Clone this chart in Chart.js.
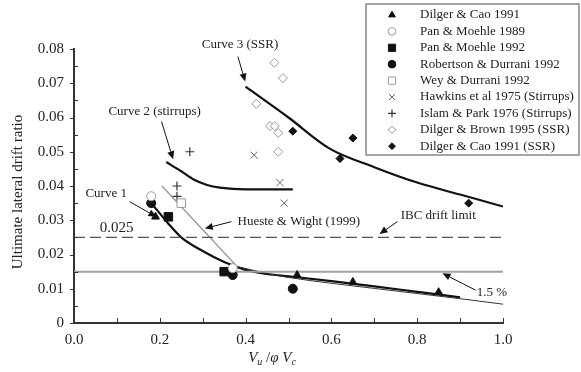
<!DOCTYPE html>
<html>
<head>
<meta charset="utf-8">
<script src="https://cdn.jsdelivr.net/npm/chart.js@4.4.1/dist/chart.umd.min.js"></script>
<style>
html,body{margin:0;padding:0;background:#fff;}
#wrap{width:581px;height:372px;position:relative;}
</style>
</head>
<body>
<div id="wrap"><canvas id="c" width="581" height="372"></canvas></div>
<script>
// ---- data ----
const xTicks = [0.0, 0.2, 0.4, 0.6, 0.8, 1.0];
const yTicks = [0, 0.01, 0.02, 0.03, 0.04, 0.05, 0.06, 0.07, 0.08];

const dilgerCao1991 = [{x:0.19,y:0.031},{x:0.52,y:0.014},{x:0.65,y:0.012},{x:0.85,y:0.009}];
const panMoehle1989 = [{x:0.18,y:0.037},{x:0.37,y:0.016}];
const panMoehle1992 = [{x:0.22,y:0.031},{x:0.35,y:0.015}];
const robertsonDurrani1992 = [{x:0.18,y:0.035},{x:0.37,y:0.014},{x:0.51,y:0.010}];
const weyDurrani1992 = [{x:0.25,y:0.035}];
const hawkins1975 = [{x:0.42,y:0.049},{x:0.48,y:0.041},{x:0.49,y:0.035}];
const islamPark1976 = [{x:0.27,y:0.050},{x:0.24,y:0.040},{x:0.24,y:0.037}];
const dilgerBrown1995 = [{x:0.467,y:0.076},{x:0.487,y:0.0715},{x:0.425,y:0.064},{x:0.457,y:0.0575},{x:0.468,y:0.0575},{x:0.476,y:0.0555},{x:0.476,y:0.050}];
const dilgerCao1991SSR = [{x:0.51,y:0.056},{x:0.65,y:0.054},{x:0.62,y:0.048},{x:0.92,y:0.035}];

const curve1 = [{x:0.18,y:0.035},{x:0.20,y:0.032},{x:0.22,y:0.029},{x:0.25,y:0.025},{x:0.30,y:0.021},{x:0.35,y:0.0178},{x:0.40,y:0.0155},{x:0.45,y:0.0143},{x:0.51,y:0.0135},{x:0.60,y:0.0122},{x:0.70,y:0.0107},{x:0.80,y:0.0091},{x:0.90,y:0.0075}];
const curve2 = [{x:0.215,y:0.047},{x:0.25,y:0.0443},{x:0.28,y:0.0418},{x:0.31,y:0.0403},{x:0.34,y:0.0395},{x:0.40,y:0.039},{x:0.51,y:0.039}];
const curve3 = [{x:0.40,y:0.069},{x:0.50,y:0.060},{x:0.595,y:0.051},{x:0.70,y:0.0455},{x:0.80,y:0.041},{x:0.90,y:0.0375},{x:1.0,y:0.034}];
const huesteWightStraight = [{x:0.205,y:0.040},{x:0.38,y:0.0165}];
const huesteWightTail = [{x:0.38,y:0.0165},{x:0.45,y:0.0145},{x:0.50,y:0.0133},{x:0.60,y:0.0116},{x:0.70,y:0.0101},{x:0.80,y:0.0086},{x:0.90,y:0.0071},{x:1.0,y:0.0055}];
const ibcLimit = [{x:0,y:0.025},{x:1.0,y:0.025}];
const onePointFive = [{x:0,y:0.015},{x:1.0,y:0.015}];

const legendLabels = ["Dilger & Cao 1991","Pan & Moehle 1989","Pan & Moehle 1992","Robertson & Durrani 1992","Wey & Durrani 1992","Hawkins et al 1975 (Stirrups)","Islam & Park 1976 (Stirrups)","Dilger & Brown 1995 (SSR)","Dilger & Cao 1991 (SSR)"];

// annotations: text position and arrow in data coordinates
const annoTexts = ["Curve 1","Curve 2 (stirrups)","Curve 3 (SSR)","Hueste & Wight (1999)","IBC drift limit","0.025","1.5 %"];
const annoTextPos = [[0.075,0.0377],[0.188,0.0617],[0.387,0.0812],[0.524,0.0296],[0.849,0.0313],[0.060,0.0278],[0.974,0.0088]];
const annoArrowFrom = [[0.130,0.0354],[0.204,0.0588],[0.382,0.0778],[0.367,0.0296],[0.754,0.0296],null,[0.936,0.0096]];
const annoArrowTo = [[0.192,0.031],[0.231,0.0478],[0.399,0.0705],[0.305,0.0276],[0.712,0.0260],null,[0.859,0.0145]];

const SERIF = "'Liberation Serif','Times New Roman',serif";

function pts(data, style, radius, fill, stroke, bw, label){
  return {type:'scatter', label:label, data:data, pointStyle:style, pointRadius:radius, pointHoverRadius:radius,
    backgroundColor:fill, borderColor:stroke, borderWidth:bw, order:0};
}
function line(data, color, width, dash, tension, label){
  return {type:'line', label:label, data:data, showLine:true, borderColor:color, borderWidth:width,
    borderDash:dash||[], pointRadius:0, pointHoverRadius:0, tension:tension, cubicInterpolationMode:tension?'monotone':'default', fill:false, order:1};
}

const pointSets = [
  pts(dilgerCao1991,'triangle',4.5,'#111','#111',1,legendLabels[0]),
  pts(panMoehle1989,'circle',4.5,'#fff','#999',1,legendLabels[1]),
  pts(panMoehle1992,'rect',6,'#111','#111',1,legendLabels[2]),
  pts(robertsonDurrani1992,'circle',4.5,'#111','#111',1,legendLabels[3]),
  pts(weyDurrani1992,'rect',6,'#fff','#999',1,legendLabels[4]),
  pts(hawkins1975,'crossRot',5,'#666','#666',1,legendLabels[5]),
  pts(islamPark1976,'cross',4.5,'#333','#333',1.2,legendLabels[6]),
  pts(dilgerBrown1995,'rectRot',4.5,'#fff','#999',1,legendLabels[7]),
  pts(dilgerCao1991SSR,'rectRot',4,'#111','#111',1,legendLabels[8])
];

const datasets = [
  line(onePointFive,'#a0a0a0',2,null,0,'1.5%'),
  line(ibcLimit,'#555',1.3,[11,5],0,'IBC'),
  line(huesteWightStraight,'#9a9a9a',1.4,null,0,'HW'),
  line(huesteWightTail,'#333',1,null,0.4,'HW2'),
  line(curve1,'#111',2.2,null,0.4,'C1'),
  line(curve2,'#111',2.2,null,0.4,'C2'),
  line(curve3,'#111',2.2,null,0.3,'C3'),
].concat(pointSets);

function drawArrow(ctx, x1, y1, x2, y2){
  ctx.save();
  ctx.strokeStyle = '#111'; ctx.fillStyle = '#111'; ctx.lineWidth = 1;
  const a = Math.atan2(y2-y1, x2-x1);
  const L = 8, W = 3.5;
  const bx = x2 - L*Math.cos(a), by = y2 - L*Math.sin(a);
  ctx.beginPath(); ctx.moveTo(x1,y1); ctx.lineTo(bx,by); ctx.stroke();
  ctx.beginPath();
  ctx.moveTo(x2,y2);
  ctx.lineTo(bx + W*Math.sin(a), by - W*Math.cos(a));
  ctx.lineTo(bx - W*Math.sin(a), by + W*Math.cos(a));
  ctx.closePath(); ctx.fill();
  ctx.restore();
}

const decor = {
  id:'decor',
  afterDraw(chart){
    const ctx = chart.ctx, xs = chart.scales.x, ys = chart.scales.y;
    const ca = chart.chartArea;
    ctx.save();
    // tick marks
    ctx.strokeStyle = '#333'; ctx.lineWidth = 1;
    for (let v = 0.1; v < 1.0001; v += 0.1){
      const px = Math.round(xs.getPixelForValue(v)) + 0.5;
      ctx.beginPath(); ctx.moveTo(px, ca.bottom); ctx.lineTo(px, ca.bottom - 5); ctx.stroke();
    }
    yTicks.forEach(v => {
      const py = Math.round(ys.getPixelForValue(v)) + 0.5;
      ctx.beginPath(); ctx.moveTo(ca.left, py); ctx.lineTo(ca.left - 4, py); ctx.stroke();
      if (v < 0.08){
        const pm = Math.round(ys.getPixelForValue(v + 0.005)) + 0.5;
        ctx.beginPath(); ctx.moveTo(ca.left, pm); ctx.lineTo(ca.left + 4, pm); ctx.stroke();
      }
    });
    // annotations
    ctx.fillStyle = '#222';
    ctx.font = "13px " + SERIF;
    ctx.textBaseline = 'middle';
    annoTexts.forEach((t,i) => {
      const px = xs.getPixelForValue(annoTextPos[i][0]);
      const py = ys.getPixelForValue(annoTextPos[i][1]);
      if (t === '0.025'){ ctx.font = "15px " + SERIF; ctx.textAlign = 'left'; }
      else { ctx.font = "13px " + SERIF; ctx.textAlign = 'center'; }
      ctx.fillText(t, px, py);
      if (annoArrowFrom[i]){
        drawArrow(ctx, xs.getPixelForValue(annoArrowFrom[i][0]), ys.getPixelForValue(annoArrowFrom[i][1]),
          xs.getPixelForValue(annoArrowTo[i][0]), ys.getPixelForValue(annoArrowTo[i][1]));
      }
    });
    // y axis title
    ctx.save();
    ctx.translate(18, (ca.top + ca.bottom)/2 + 6);
    ctx.rotate(-Math.PI/2);
    ctx.font = "15px " + SERIF; ctx.textAlign = 'center'; ctx.textBaseline = 'middle';
    ctx.fillStyle = '#222';
    ctx.fillText('Ultimate lateral drift ratio', 0, 0);
    ctx.restore();
    // x axis title: V_u / φ V_c
    const parts = [["V","italic 15px",0],["u","italic 10px",3],[" /","15px",0],["\u03c6","italic 15px",0],[" V","italic 15px",0],["c","italic 10px",3]];
    let total = 0;
    parts.forEach(p => { ctx.font = p[1] + " " + SERIF; total += ctx.measureText(p[0]).width; });
    let cx = 272 - total/2; const base = 362;
    ctx.textAlign = 'left'; ctx.textBaseline = 'alphabetic';
    parts.forEach(p => { ctx.font = p[1] + " " + SERIF; ctx.fillText(p[0], cx, base + p[2]); cx += ctx.measureText(p[0]).width; });
    // legend
    const lx = 366, ly = 4, lw = 213, lh = 151;
    ctx.fillStyle = '#fff'; ctx.fillRect(lx, ly, lw, lh);
    ctx.strokeStyle = '#888'; ctx.lineWidth = 1.5; ctx.strokeRect(lx, ly, lw, lh);
    ctx.font = "13px " + SERIF; ctx.textBaseline = 'middle'; ctx.textAlign = 'left';
    pointSets.forEach((ds, i) => {
      const yy = ly + 11 + i * 16.4;
      const opts = {pointStyle: ds.pointStyle, radius: ds.pointRadius * 0.85, borderWidth: ds.borderWidth, rotation: 0};
      ctx.fillStyle = ds.backgroundColor; ctx.strokeStyle = ds.borderColor; ctx.lineWidth = ds.borderWidth;
      Chart.helpers.drawPoint(ctx, opts, 392, yy);
      ctx.fillStyle = '#222';
      ctx.fillText(ds.label, 420, yy);
    });
    ctx.restore();
  }
};

new Chart(document.getElementById('c'), {
  type: 'scatter',
  data: { datasets: datasets },
  options: {
    responsive: false, animation: false, devicePixelRatio: 1,
    layout: { padding: { left: 0, top: 49, right: 78, bottom: 0 } },
    plugins: { legend: { display: false }, tooltip: { enabled: false } },
    scales: {
      x: {
        type: 'linear', min: 0, max: 1.0,
        afterFit(s){ s.height = 49; },
        afterBuildTicks(s){ s.ticks = xTicks.map(v => ({value: v})); },
        grid: { display: false, drawTicks: false },
        border: { display: true, color: '#333', width: 2 },
        ticks: { padding: 8, color: '#222', font: { family: SERIF, size: 15 }, callback: v => v.toFixed(1) }
      },
      y: {
        type: 'linear', min: 0, max: 0.08,
        afterFit(s){ s.width = 74; },
        afterBuildTicks(s){ s.ticks = yTicks.map(v => ({value: v})); },
        grid: { display: false, drawTicks: false },
        border: { display: true, color: '#333', width: 2 },
        ticks: { padding: 10, color: '#222', font: { family: SERIF, size: 15 }, callback: v => v === 0 ? '0' : v.toFixed(2) }
      }
    }
  },
  plugins: [decor]
});
</script>
</body>
</html>
